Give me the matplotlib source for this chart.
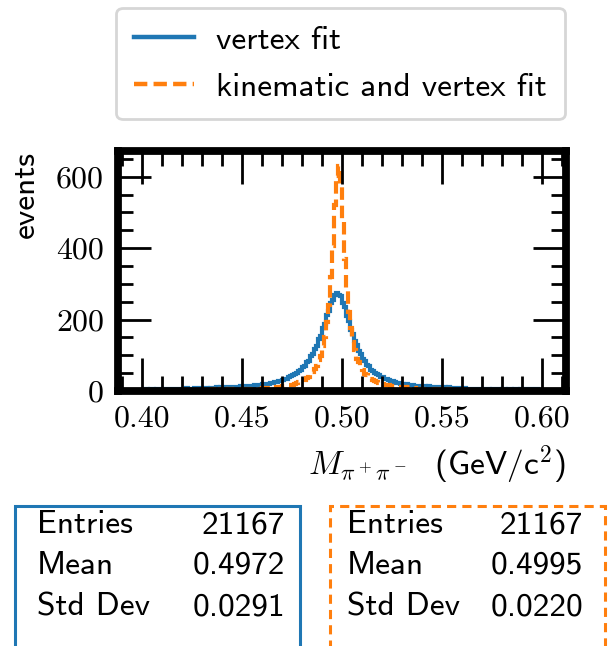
import numpy as np
import matplotlib
matplotlib.use("Agg")
import matplotlib.pyplot as plt
from matplotlib.patches import Rectangle
from matplotlib.ticker import MultipleLocator

plt.rcParams['mathtext.fontset'] = 'cm'
plt.rcParams['axes.formatter.use_mathtext'] = True

# ---------------- data ----------------
bin_edges = np.linspace(0.40, 0.60, 201)

vertex_fit = [
    4, 6, 5, 3, 5, 6, 4, 5,
    5, 6, 4, 6, 5, 7, 5, 6, 6, 5,
    6, 7, 5, 6, 8, 6, 7, 6, 8, 7,
    7, 8, 6, 8, 9, 7, 8, 9, 8, 10,
    9, 10, 9, 11, 10, 11, 12, 10, 12, 12,
    12, 13, 12, 14, 13,
    14, 15, 14, 16, 17,
    17, 18, 19, 19, 21,
    21, 22, 23, 24, 26,
    27, 28, 30, 33,
    35, 38, 41, 44, 47, 51,
    56, 60, 67, 71, 80, 85, 97, 104, 118, 127, 145, 155, 177, 189, 212, 225, 246, 255, 269, 274,
    268, 265, 247, 236, 211, 197, 172, 160, 139, 128, 111, 103, 89, 84, 72, 69, 59, 57, 50, 48,
    44, 39, 39, 34, 33, 31, 28, 27, 24, 23,
    22, 20, 21, 18, 19, 17, 18, 16, 15, 15,
    14, 15, 13, 14, 12, 13, 11, 12, 11, 11,
    10, 11, 9, 10, 9, 10, 8, 9, 8, 8,
    8, 7, 7, 8, 6, 7, 7, 6, 7, 6,
    6, 5, 6, 5, 6, 5, 4, 5, 6, 5,
    5, 4, 5, 6, 4, 5, 5, 4, 5, 5,
    4, 5, 4, 5, 4, 4, 5, 4, 3, 5, 4, 4,
]

kin_vertex_fit = [
    2, 3, 2, 1, 3, 2, 2, 3, 2, 3,
    3, 2, 3, 2, 3, 3, 2, 3, 4, 3,
    3, 3, 4, 3, 2, 4, 3, 3, 4, 3,
    4, 3, 4, 4, 3, 5, 4, 4, 3, 5,
    4, 5, 4, 5, 5, 4, 6, 5, 5, 5,
    5, 6, 6, 5, 6,
    6, 7, 6, 7, 7,
    8, 8, 9, 8, 9,
    10, 9, 10, 11, 12,
    13, 13, 14, 16, 17,
    18, 21, 23, 24, 27,
    30, 32, 37, 40, 47, 52, 62, 70, 86, 99, 126, 150, 194, 242, 320, 407, 520, 602, 630,
    575, 478, 370, 288, 220, 177, 137, 115, 91, 80, 64, 58, 49, 44, 37, 35, 30, 29, 24, 23,
    21, 20, 18, 17, 17, 15, 14, 13, 12, 12,
    11, 10, 10, 9, 10, 8, 8, 9, 7, 7,
    7, 6, 7, 6, 5, 6, 6, 5, 5, 5,
    5, 4, 5, 4, 5, 4, 4, 3, 4, 4,
    4, 4, 4, 3, 4, 3, 3, 4, 3, 3,
    3, 3, 4, 3, 3, 3, 2, 3, 3, 3,
    3, 2, 3, 3, 2, 3, 3, 2, 3, 2,
    2, 3, 2, 2, 3, 2, 2, 3, 2, 2, 2,
]

series_labels = ["vertex fit", "kinematic and vertex fit"]
xticks = [0.40, 0.45, 0.50, 0.55, 0.60]
xtick_labels = ["0.40", "0.45", "0.50", "0.55", "0.60"]
yticks = [0, 200, 400, 600]
ytick_labels = ["0", "200", "400", "600"]

stat_names = ["Entries", "Mean", "Std Dev"]
vertex_stats = ["21167", "0.4972", "0.0291"]
kin_stats = ["21167", "0.4995", "0.0220"]

BLUE = "#1f77b4"
ORANGE = "#ff7f0e"
SANS = "cmss10"
SERIF = "cmr10"

# ---------------- figure ----------------
fig = plt.figure(figsize=(3.05, 3.23), dpi=200)
ax = fig.add_axes([118/610, 1-391/646, (566-118)/610, (391-151)/646])

h1 = ax.stairs(vertex_fit, bin_edges, color=BLUE, lw=1.5, label=series_labels[0])
h2 = ax.stairs(kin_vertex_fit, bin_edges, color=ORANGE, lw=1.5, ls=(0, (3.0, 1.4)),
               label=series_labels[1])

ax.set_xlim(0.388, 0.612)
ax.set_ylim(0, 672)

ax.set_xticks(xticks, labels=xtick_labels)
ax.set_yticks(yticks, labels=ytick_labels)
ax.xaxis.set_minor_locator(MultipleLocator(0.01))
ax.yaxis.set_minor_locator(MultipleLocator(50))
ax.tick_params(which='both', direction='in', top=True, right=True, width=1.0)
ax.tick_params(which='major', length=12, pad=5)
ax.tick_params(which='minor', length=5.5)
for lab in ax.get_xticklabels() + ax.get_yticklabels():
    lab.set_fontfamily(SERIF)
    lab.set_fontsize(11.5)
for s in ax.spines.values():
    s.set_linewidth(2.8)

ax.set_xlabel(r"$M_{\pi^+\pi^-}$  (GeV/c$^{\mathsf{2}}$)", loc='right',
              fontfamily=SANS, fontsize=12, labelpad=4)
ax.set_ylabel("events", loc='top', fontfamily=SANS, fontsize=12, labelpad=6)

leg = fig.legend(handles=[h1, h2], labels=series_labels, loc='upper center',
                 bbox_to_anchor=(0.558, 0.988), prop={'family': SANS, 'size': 12},
                 handlelength=1.8, handletextpad=0.68, labelspacing=0.53,
                 borderpad=0.53, borderaxespad=0.0, frameon=True)
for lh in leg.get_lines():
    lh.set_linewidth(1.6)

# ---------------- stat boxes ----------------
box_top = 1 - 506/646
fig.patches.append(Rectangle((15/610, -0.1), (300-15)/610, box_top + 0.1,
                             transform=fig.transFigure, fill=False,
                             edgecolor=BLUE, lw=1.1, clip_on=False))
fig.patches.append(Rectangle((330/610, -0.1), (605-330)/610, box_top + 0.1,
                             transform=fig.transFigure, fill=False,
                             edgecolor=ORANGE, lw=1.1, ls=(0, (3, 2)), clip_on=False))

row_y = [1-533/646, 1-574/646, 1-615/646]
for name, v1, v2, y in zip(stat_names, vertex_stats, kin_stats, row_y):
    fig.text(37/610, y, name, ha='left', va='baseline', fontfamily=SANS, fontsize=12)
    fig.text(285/610, y, v1, ha='right', va='baseline', fontfamily=SANS, fontsize=12)
    fig.text(347/610, y, name, ha='left', va='baseline', fontfamily=SANS, fontsize=12)
    fig.text(583/610, y, v2, ha='right', va='baseline', fontfamily=SANS, fontsize=12)

fig.savefig("out.png", dpi=200)
